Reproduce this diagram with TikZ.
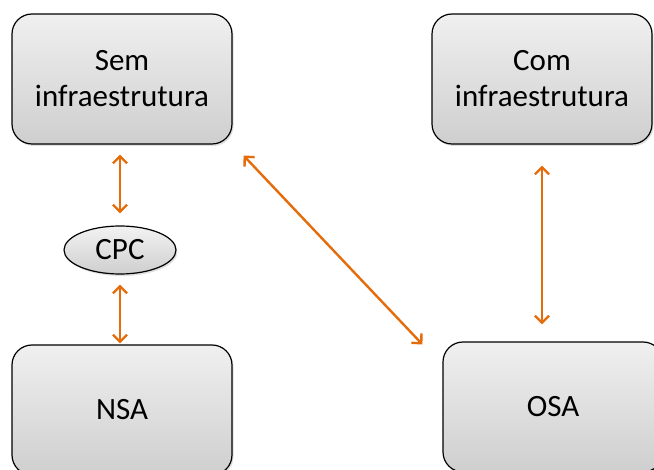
\documentclass[tikz,border=0pt]{standalone}
\usepackage{fontspec}
\setmainfont{Carlito}
\usetikzlibrary{arrows.meta,shapes.geometric,shadows,calc}
\definecolor{linkorange}{HTML}{E46C0A}
\tikzset{
  block/.style={draw=black, line width=1.2pt, rounded corners=20pt,
    top color=gray!12, bottom color=gray!38,
    drop shadow={shadow xshift=1.5pt, shadow yshift=-2pt, opacity=0.25},
    minimum width=220pt, minimum height=130pt, align=center,
    font=\fontsize{31}{36}\selectfont, inner sep=0pt},
  hub/.style={ellipse, draw=black, line width=1.2pt,
    top color=gray!10, bottom color=gray!38,
    drop shadow={shadow xshift=1.5pt, shadow yshift=-2pt, opacity=0.25},
    minimum width=112pt, minimum height=48pt, inner sep=0pt,
    font=\fontsize{31}{34}\selectfont},
  link/.style={draw=linkorange, line width=2.4pt,
    {Straight Barb[length=7pt,width=14pt,line width=2.4pt]}-{Straight Barb[length=7pt,width=14pt,line width=2.4pt]}}
}
\begin{document}
\begin{tikzpicture}[x=1pt,y=-1pt]
  \useasboundingbox (0,0) rectangle (654,470);
  % boxes
  \node[block] (sem) at (122,79) {Sem\\infraestrutura};
  \node[block] (com) at (542,79) {Com\\infraestrutura};
  \node[block] (nsa) at (122,410) {NSA};
  \node[block] (osa) at (553,407) {OSA};
  \node[hub]   (cpc) at (120,250) {CPC};
  % links
  \draw[link, shorten <=10pt, shorten >=12pt] (sem.south -| cpc.north) -- (cpc.north);
  \draw[link, shorten <=10pt, shorten >=1pt] (cpc.south) -- (cpc.south |- nsa.north);
  \draw[link] ([shift={(11,11)}]sem.south east) -- ([shift={(-20,3)}]osa.north west);
  \draw[link, shorten <=21pt, shorten >=17pt] (com.south) -- (com.south |- osa.north);
\end{tikzpicture}
\end{document}
